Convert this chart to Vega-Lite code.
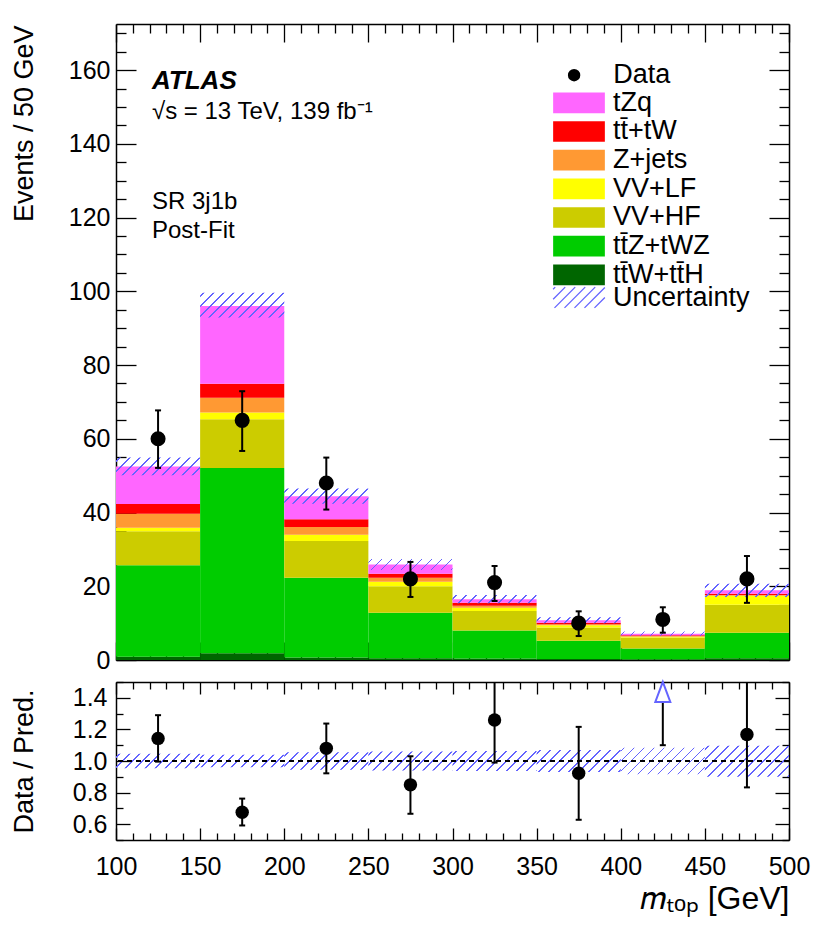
{
  "$schema": "https://vega.github.io/schema/vega-lite/v6.json",
  "background": "white",
  "padding": {"left": 10, "top": 21, "right": 5, "bottom": 5},
  "title": {
    "text": ["SR 3j1b", "Post-Fit"],
    "anchor": "start", "frame": "group", "orient": "top", "align": "left",
    "dx": 36, "dy": 222, "offset": 0,
    "font": "Liberation Sans", "fontSize": 24, "fontStyle": "normal", "fontWeight": "normal", "color": "black",
    "lineHeight": 29
  },
  "params": [
    {"name": "hatchStops", "value": [
      {"offset": 0, "color": "rgba(100,100,255,0)"},
      {"offset": 0.02, "color": "rgba(100,100,255,0)"}, {"offset": 0.02, "color": "#6464ff"}, {"offset": 0.032, "color": "#6464ff"}, {"offset": 0.032, "color": "rgba(100,100,255,0)"},
      {"offset": 0.0914, "color": "rgba(100,100,255,0)"}, {"offset": 0.0914, "color": "#6464ff"}, {"offset": 0.1034, "color": "#6464ff"}, {"offset": 0.1034, "color": "rgba(100,100,255,0)"},
      {"offset": 0.1629, "color": "rgba(100,100,255,0)"}, {"offset": 0.1629, "color": "#6464ff"}, {"offset": 0.1749, "color": "#6464ff"}, {"offset": 0.1749, "color": "rgba(100,100,255,0)"},
      {"offset": 0.2343, "color": "rgba(100,100,255,0)"}, {"offset": 0.2343, "color": "#6464ff"}, {"offset": 0.2463, "color": "#6464ff"}, {"offset": 0.2463, "color": "rgba(100,100,255,0)"},
      {"offset": 0.3057, "color": "rgba(100,100,255,0)"}, {"offset": 0.3057, "color": "#6464ff"}, {"offset": 0.3177, "color": "#6464ff"}, {"offset": 0.3177, "color": "rgba(100,100,255,0)"},
      {"offset": 0.3771, "color": "rgba(100,100,255,0)"}, {"offset": 0.3771, "color": "#6464ff"}, {"offset": 0.3891, "color": "#6464ff"}, {"offset": 0.3891, "color": "rgba(100,100,255,0)"},
      {"offset": 0.4486, "color": "rgba(100,100,255,0)"}, {"offset": 0.4486, "color": "#6464ff"}, {"offset": 0.4606, "color": "#6464ff"}, {"offset": 0.4606, "color": "rgba(100,100,255,0)"},
      {"offset": 0.52, "color": "rgba(100,100,255,0)"}, {"offset": 0.52, "color": "#6464ff"}, {"offset": 0.532, "color": "#6464ff"}, {"offset": 0.532, "color": "rgba(100,100,255,0)"},
      {"offset": 0.5914, "color": "rgba(100,100,255,0)"}, {"offset": 0.5914, "color": "#6464ff"}, {"offset": 0.6034, "color": "#6464ff"}, {"offset": 0.6034, "color": "rgba(100,100,255,0)"},
      {"offset": 0.6629, "color": "rgba(100,100,255,0)"}, {"offset": 0.6629, "color": "#6464ff"}, {"offset": 0.6749, "color": "#6464ff"}, {"offset": 0.6749, "color": "rgba(100,100,255,0)"},
      {"offset": 0.7343, "color": "rgba(100,100,255,0)"}, {"offset": 0.7343, "color": "#6464ff"}, {"offset": 0.7463, "color": "#6464ff"}, {"offset": 0.7463, "color": "rgba(100,100,255,0)"},
      {"offset": 0.8057, "color": "rgba(100,100,255,0)"}, {"offset": 0.8057, "color": "#6464ff"}, {"offset": 0.8177, "color": "#6464ff"}, {"offset": 0.8177, "color": "rgba(100,100,255,0)"},
      {"offset": 0.8771, "color": "rgba(100,100,255,0)"}, {"offset": 0.8771, "color": "#6464ff"}, {"offset": 0.8891, "color": "#6464ff"}, {"offset": 0.8891, "color": "rgba(100,100,255,0)"},
      {"offset": 0.9486, "color": "rgba(100,100,255,0)"}, {"offset": 0.9486, "color": "#6464ff"}, {"offset": 0.9606, "color": "#6464ff"}, {"offset": 0.9606, "color": "rgba(100,100,255,0)"},
      {"offset": 1, "color": "rgba(100,100,255,0)"}
    ]}
  ],
  "config": {
    "font": "Liberation Sans",
    "view": {"stroke": null},
    "axis": {
      "grid": false, "domainColor": "black", "domainWidth": 1.5, "tickColor": "black", "tickWidth": 1.3,
      "labelColor": "black", "titleColor": "black", "labelFont": "Liberation Sans", "titleFont": "Liberation Sans",
      "titleFontWeight": "normal", "labelFontSize": 25, "labelFlush": false, "labelOverlap": false, "labelBound": false
    },
    "legend": {"labelFont": "Liberation Sans", "labelFontSize": 27, "labelColor": "black", "padding": 0, "labelLimit": 500}
  },
  "datasets": {
    "stack": [
      {"lo": 100, "hi": 150, "p": "tt\u0304W+tt\u0304H", "ord": 1, "n": 0.9},
      {"lo": 100, "hi": 150, "p": "tt\u0304Z+tWZ", "ord": 2, "n": 24.8},
      {"lo": 100, "hi": 150, "p": "VV+HF", "ord": 3, "n": 9.2},
      {"lo": 100, "hi": 150, "p": "VV+LF", "ord": 4, "n": 1.0},
      {"lo": 100, "hi": 150, "p": "Z+jets", "ord": 5, "n": 3.8},
      {"lo": 100, "hi": 150, "p": "tt\u0304+tW", "ord": 6, "n": 2.6},
      {"lo": 100, "hi": 150, "p": "tZq", "ord": 7, "n": 10.2},
      {"lo": 150, "hi": 200, "p": "tt\u0304W+tt\u0304H", "ord": 1, "n": 1.8},
      {"lo": 150, "hi": 200, "p": "tt\u0304Z+tWZ", "ord": 2, "n": 50.3},
      {"lo": 150, "hi": 200, "p": "VV+HF", "ord": 3, "n": 13.2},
      {"lo": 150, "hi": 200, "p": "VV+LF", "ord": 4, "n": 1.8},
      {"lo": 150, "hi": 200, "p": "Z+jets", "ord": 5, "n": 4.0},
      {"lo": 150, "hi": 200, "p": "tt\u0304+tW", "ord": 6, "n": 3.8},
      {"lo": 150, "hi": 200, "p": "tZq", "ord": 7, "n": 21.1},
      {"lo": 200, "hi": 250, "p": "tt\u0304W+tt\u0304H", "ord": 1, "n": 0.7},
      {"lo": 200, "hi": 250, "p": "tt\u0304Z+tWZ", "ord": 2, "n": 21.6},
      {"lo": 200, "hi": 250, "p": "VV+HF", "ord": 3, "n": 10.0},
      {"lo": 200, "hi": 250, "p": "VV+LF", "ord": 4, "n": 1.7},
      {"lo": 200, "hi": 250, "p": "Z+jets", "ord": 5, "n": 2.1},
      {"lo": 200, "hi": 250, "p": "tt\u0304+tW", "ord": 6, "n": 2.1},
      {"lo": 200, "hi": 250, "p": "tZq", "ord": 7, "n": 6.2},
      {"lo": 250, "hi": 300, "p": "tt\u0304W+tt\u0304H", "ord": 1, "n": 0.5},
      {"lo": 250, "hi": 300, "p": "tt\u0304Z+tWZ", "ord": 2, "n": 12.3},
      {"lo": 250, "hi": 300, "p": "VV+HF", "ord": 3, "n": 7.2},
      {"lo": 250, "hi": 300, "p": "VV+LF", "ord": 4, "n": 1.2},
      {"lo": 250, "hi": 300, "p": "Z+jets", "ord": 5, "n": 1.1},
      {"lo": 250, "hi": 300, "p": "tt\u0304+tW", "ord": 6, "n": 1.1},
      {"lo": 250, "hi": 300, "p": "tZq", "ord": 7, "n": 2.5},
      {"lo": 300, "hi": 350, "p": "tt\u0304W+tt\u0304H", "ord": 1, "n": 0.4},
      {"lo": 300, "hi": 350, "p": "tt\u0304Z+tWZ", "ord": 2, "n": 7.6},
      {"lo": 300, "hi": 350, "p": "VV+HF", "ord": 3, "n": 5.3},
      {"lo": 300, "hi": 350, "p": "VV+LF", "ord": 4, "n": 0.9},
      {"lo": 300, "hi": 350, "p": "Z+jets", "ord": 5, "n": 0.5},
      {"lo": 300, "hi": 350, "p": "tt\u0304+tW", "ord": 6, "n": 0.8},
      {"lo": 300, "hi": 350, "p": "tZq", "ord": 7, "n": 1.0},
      {"lo": 350, "hi": 400, "p": "tt\u0304W+tt\u0304H", "ord": 1, "n": 0.3},
      {"lo": 350, "hi": 400, "p": "tt\u0304Z+tWZ", "ord": 2, "n": 4.9},
      {"lo": 350, "hi": 400, "p": "VV+HF", "ord": 3, "n": 3.6},
      {"lo": 350, "hi": 400, "p": "VV+LF", "ord": 4, "n": 0.6},
      {"lo": 350, "hi": 400, "p": "Z+jets", "ord": 5, "n": 0.3},
      {"lo": 350, "hi": 400, "p": "tt\u0304+tW", "ord": 6, "n": 0.4},
      {"lo": 350, "hi": 400, "p": "tZq", "ord": 7, "n": 0.7},
      {"lo": 400, "hi": 450, "p": "tt\u0304W+tt\u0304H", "ord": 1, "n": 0.2},
      {"lo": 400, "hi": 450, "p": "tt\u0304Z+tWZ", "ord": 2, "n": 2.9},
      {"lo": 400, "hi": 450, "p": "VV+HF", "ord": 3, "n": 3.0},
      {"lo": 400, "hi": 450, "p": "VV+LF", "ord": 4, "n": 0.2},
      {"lo": 400, "hi": 450, "p": "Z+jets", "ord": 5, "n": 0.2},
      {"lo": 400, "hi": 450, "p": "tt\u0304+tW", "ord": 6, "n": 0.2},
      {"lo": 400, "hi": 450, "p": "tZq", "ord": 7, "n": 0.4},
      {"lo": 450, "hi": 500, "p": "tt\u0304W+tt\u0304H", "ord": 1, "n": 0.5},
      {"lo": 450, "hi": 500, "p": "tt\u0304Z+tWZ", "ord": 2, "n": 6.9},
      {"lo": 450, "hi": 500, "p": "VV+HF", "ord": 3, "n": 7.6},
      {"lo": 450, "hi": 500, "p": "VV+LF", "ord": 4, "n": 2.4},
      {"lo": 450, "hi": 500, "p": "Z+jets", "ord": 5, "n": 0.2},
      {"lo": 450, "hi": 500, "p": "tt\u0304+tW", "ord": 6, "n": 0.4},
      {"lo": 450, "hi": 500, "p": "tZq", "ord": 7, "n": 0.9}
    ],
    "unc": [
      {"lo": 100, "hi": 150, "ulo": 50.1, "uhi": 54.9, "rulo": 0.954, "ruhi": 1.046},
      {"lo": 150, "hi": 200, "ulo": 92.9, "uhi": 99.6, "rulo": 0.96, "ruhi": 1.04},
      {"lo": 200, "hi": 250, "ulo": 42.4, "uhi": 46.5, "rulo": 0.945, "ruhi": 1.055},
      {"lo": 250, "hi": 300, "ulo": 24.4, "uhi": 27.4, "rulo": 0.94, "ruhi": 1.06},
      {"lo": 300, "hi": 350, "ulo": 15.4, "uhi": 17.6, "rulo": 0.937, "ruhi": 1.063},
      {"lo": 350, "hi": 400, "ulo": 10.0, "uhi": 11.6, "rulo": 0.93, "ruhi": 1.07},
      {"lo": 400, "hi": 450, "ulo": 6.5, "uhi": 7.7, "rulo": 0.916, "ruhi": 1.084},
      {"lo": 450, "hi": 500, "ulo": 17.1, "uhi": 20.7, "rulo": 0.9, "ruhi": 1.097}
    ],
    "obs": [
      {"c": 125, "n": 60, "nlo": 52.1, "nhi": 67.7, "r": 1.143, "rlo": 0.996, "rhi": 1.29},
      {"c": 175, "n": 65, "nlo": 56.7, "nhi": 72.9, "r": 0.676, "rlo": 0.592, "rhi": 0.762},
      {"c": 225, "n": 48, "nlo": 40.8, "nhi": 54.9, "r": 1.08, "rlo": 0.922, "rhi": 1.237},
      {"c": 275, "n": 22, "nlo": 17.1, "nhi": 26.6, "r": 0.849, "rlo": 0.666, "rhi": 1.03},
      {"c": 325, "n": 21, "nlo": 16.0, "nhi": 25.5, "r": 1.259, "rlo": 0.99, "rhi": 1.545},
      {"c": 375, "n": 10, "nlo": 6.5, "nhi": 13.2, "r": 0.922, "rlo": 0.628, "rhi": 1.216},
      {"c": 425, "n": 11, "nlo": 7.4, "nhi": 14.3, "r": 1.55, "rlo": 1.10, "rhi": 2.01},
      {"c": 475, "n": 22, "nlo": 15.5, "nhi": 28.2, "r": 1.168, "rlo": 0.833, "rhi": 1.52}
    ]
  },
  "resolve": {"scale": {"x": "independent", "y": "independent"}},
  "spacing": 22,
  "bounds": "flush",
  "vconcat": [
    {
      "width": 673,
      "height": 636,
      "title": {
        "text": "ATLAS",
        "subtitle": "\u221As = 13 TeV, 139 fb\u207B\u00B9",
        "anchor": "start", "frame": "group", "orient": "top", "align": "left",
        "dx": 36, "dy": 103, "offset": 0,
        "font": "Liberation Sans", "fontSize": 26, "fontStyle": "italic", "fontWeight": "bold", "color": "black",
        "subtitleFont": "Liberation Sans", "subtitleFontSize": 24, "subtitleColor": "black",
        "subtitleLineHeight": 31, "subtitlePadding": 6
      },
      "layer": [
        {
          "data": {"name": "stack"},
          "transform": [{"stack": "n", "groupby": ["lo"], "sort": [{"field": "ord", "order": "ascending"}], "as": ["y0", "y1"]}],
          "mark": {"type": "rect"},
          "encoding": {
            "x": {"field": "lo", "type": "quantitative", "scale": {"domain": [100, 500], "nice": false, "zero": false},
              "axis": {"orient": "bottom", "values": [100,110,120,130,140,150,160,170,180,190,200,210,220,230,240,250,260,270,280,290,300,310,320,330,340,350,360,370,380,390,400,410,420,430,440,450,460,470,480,490,500],
                "labels": false, "title": null, "tickSize": {"condition": {"test": "datum.value % 50 === 0", "value": -18}, "value": -9}}},
            "x2": {"field": "hi"},
            "y": {"field": "y0", "type": "quantitative", "scale": {"domain": [0, 172.5], "nice": false, "zero": false},
              "axis": {"orient": "left", "values": [0,5,10,15,20,25,30,35,40,45,50,55,60,65,70,75,80,85,90,95,100,105,110,115,120,125,130,135,140,145,150,155,160,165,170],
                "labelExpr": "datum.value % 20 === 0 ? datum.label : ''",
                "tickSize": {"condition": {"test": "datum.value % 20 === 0", "value": -20}, "value": -10},
                "labelPadding": 26, "labelFontSize": 25,
                "title": "Events / 50 GeV", "titleFontSize": 27, "titleAngle": 270, "titleX": -84, "titleY": 1, "titleAlign": "right", "titleBaseline": "alphabetic"}},
            "y2": {"field": "y1"},
            "fill": {"field": "p", "type": "nominal",
              "scale": {"domain": ["tZq", "tt\u0304+tW", "Z+jets", "VV+LF", "VV+HF", "tt\u0304Z+tWZ", "tt\u0304W+tt\u0304H"],
                        "range": ["#ff66ff", "#ff0000", "#ff9933", "#ffff00", "#cccc00", "#00cc00", "#006600"]},
              "legend": {"orient": "none", "legendX": 449.5, "legendY": 65.3, "title": null,
                "symbolType": "M-2.5,-1H2.5V1H-2.5Z", "symbolSize": 428, "symbolStrokeWidth": 0, "symbolOpacity": 1,
                "labelFontSize": 27, "labelOffset": 20.5, "rowPadding": 0.67, "padding": 0}}
          }
        },
        {
          "data": {"name": "unc"},
          "mark": {"type": "rect", "fill": {"expr": "{gradient:'linear',x1:0,y1:0,x2:11777.5/(7077+pow((datum.uhi-datum.ulo)*3.6875,2)),y2:140*(datum.uhi-datum.ulo)*3.6875/(7077+pow((datum.uhi-datum.ulo)*3.6875,2)),stops:hatchStops}"}},
          "encoding": {
            "x": {"field": "lo", "type": "quantitative",
              "axis": {"orient": "top", "values": [100,110,120,130,140,150,160,170,180,190,200,210,220,230,240,250,260,270,280,290,300,310,320,330,340,350,360,370,380,390,400,410,420,430,440,450,460,470,480,490,500],
                "labels": false, "title": null, "tickSize": {"condition": {"test": "datum.value % 50 === 0", "value": -18}, "value": -9}}},
            "x2": {"field": "hi"},
            "y": {"field": "ulo", "type": "quantitative",
              "axis": {"orient": "right", "values": [0,5,10,15,20,25,30,35,40,45,50,55,60,65,70,75,80,85,90,95,100,105,110,115,120,125,130,135,140,145,150,155,160,165,170],
                "labels": false, "title": null, "tickSize": {"condition": {"test": "datum.value % 20 === 0", "value": -20}, "value": -10}}},
            "y2": {"field": "uhi"}
          }
        },
        {
          "data": {"name": "unc"},
          "mark": {"type": "point", "shape": "M-2.5,-0.8L-2.3,-1M-2.5,0.166L-1.334,-1M-2.368,1L-0.368,-1M-1.402,1L0.598,-1M-0.436,1L1.564,-1M0.53,1L2.5,-0.97M1.496,1L2.5,-0.004",
            "size": 428, "filled": false, "strokeWidth": 1.3, "opacity": 0},
          "encoding": {
            "x": {"field": "lo", "type": "quantitative", "axis": null},
            "y": {"field": "ulo", "type": "quantitative", "axis": null},
            "stroke": {"datum": "Uncertainty", "type": "nominal", "scale": {"range": ["#6464ff"]},
              "legend": {"orient": "none", "legendX": 449.5, "legendY": 260, "title": null,
                "symbolType": "M-2.5,-0.8L-2.3,-1M-2.5,0.166L-1.334,-1M-2.368,1L-0.368,-1M-1.402,1L0.598,-1M-0.436,1L1.564,-1M0.53,1L2.5,-0.97M1.496,1L2.5,-0.004",
                "symbolSize": 428, "symbolOpacity": 1, "symbolStrokeWidth": 1.3, "symbolFillColor": "transparent",
                "labelFontSize": 27, "labelOffset": 20.5, "padding": 0}}
          }
        },
        {
          "data": {"name": "obs"},
          "mark": {"type": "rule", "color": "black", "strokeWidth": 2},
          "encoding": {
            "x": {"field": "c", "type": "quantitative", "axis": null},
            "y": {"field": "nlo", "type": "quantitative", "axis": null},
            "y2": {"field": "nhi"}
          }
        },
        {
          "data": {"name": "obs"},
          "mark": {"type": "tick", "orient": "horizontal", "size": 6, "thickness": 2, "color": "black", "opacity": 1},
          "encoding": {
            "x": {"field": "c", "type": "quantitative", "axis": null},
            "y": {"field": "nlo", "type": "quantitative", "axis": null}
          }
        },
        {
          "data": {"name": "obs"},
          "mark": {"type": "tick", "orient": "horizontal", "size": 6, "thickness": 2, "color": "black", "opacity": 1},
          "encoding": {
            "x": {"field": "c", "type": "quantitative", "axis": null},
            "y": {"field": "nhi", "type": "quantitative", "axis": null}
          }
        },
        {
          "data": {"name": "obs"},
          "mark": {"type": "point", "filled": true, "color": "black", "size": 227, "opacity": 1},
          "encoding": {
            "x": {"field": "c", "type": "quantitative", "axis": null},
            "y": {"field": "n", "type": "quantitative", "axis": null},
            "shape": {"datum": "Data", "type": "nominal", "scale": {"range": ["circle"]},
              "legend": {"orient": "none", "legendX": 444.6, "legendY": 37.7, "title": null,
                "symbolSize": 154, "symbolFillColor": "black", "symbolStrokeWidth": 0,
                "labelFontSize": 27, "labelOffset": 25.7, "padding": 0}}
          }
        }
      ],
      "resolve": {"axis": {"x": "independent", "y": "independent"}}
    },
    {
      "width": 673,
      "height": 158,
      "layer": [
        {
          "data": {"name": "unc"},
          "mark": {"type": "rect", "fill": {"expr": "{gradient:'linear',x1:0,y1:0,x2:11777.5/(7077+pow((datum.ruhi-datum.rulo)*158,2)),y2:140*(datum.ruhi-datum.rulo)*158/(7077+pow((datum.ruhi-datum.rulo)*158,2)),stops:hatchStops}"}},
          "encoding": {
            "x": {"field": "lo", "type": "quantitative", "scale": {"domain": [100, 500], "nice": false, "zero": false},
              "axis": {"orient": "bottom", "values": [100,110,120,130,140,150,160,170,180,190,200,210,220,230,240,250,260,270,280,290,300,310,320,330,340,350,360,370,380,390,400,410,420,430,440,450,460,470,480,490,500],
                "labelExpr": "datum.value % 50 === 0 ? datum.label : ''",
                "tickSize": {"condition": {"test": "datum.value % 50 === 0", "value": -12}, "value": -7},
                "labelPadding": 26, "labelBaseline": "top", "labelFontSize": 25,
                "title": "\uD835\uDC5A\u209C\u2092\u209A [GeV]", "titleFont": "'Liberation Sans', 'Noto Sans', 'DejaVu Sans'", "titleFontSize": 32, "titleAnchor": "end", "titleAlign": "right",
                "titleX": 673, "titleY": 68, "titleBaseline": "alphabetic"}},
            "x2": {"field": "hi"},
            "y": {"field": "rulo", "type": "quantitative", "scale": {"domain": [0.5, 1.5], "nice": false, "zero": false},
              "axis": {"orient": "left", "values": [0.5,0.6,0.7,0.8,0.9,1.0,1.1,1.2,1.3,1.4,1.5],
                "labelExpr": "round(datum.value*10) % 2 === 0 ? format(datum.value, '.1f') : ''",
                "tickSize": {"condition": {"test": "round(datum.value*10) % 2 === 0", "value": -14}, "value": -7},
                "labelPadding": 23, "labelFontSize": 25,
                "title": "Data / Pred.", "titleFontSize": 27, "titleAngle": 270, "titleX": -84, "titleY": 79, "titleAlign": "center", "titleBaseline": "alphabetic"}},
            "y2": {"field": "ruhi"}
          }
        },
        {
          "data": {"values": [{}]},
          "mark": {"type": "rule", "color": "black", "strokeWidth": 2, "strokeDash": [5, 4]},
          "encoding": {"y": {"datum": 1, "type": "quantitative", "axis": null}}
        },
        {
          "data": {"name": "obs"},
          "mark": {"type": "rule", "color": "black", "strokeWidth": 2, "clip": true},
          "encoding": {
            "x": {"field": "c", "type": "quantitative",
              "axis": {"orient": "top", "values": [100,110,120,130,140,150,160,170,180,190,200,210,220,230,240,250,260,270,280,290,300,310,320,330,340,350,360,370,380,390,400,410,420,430,440,450,460,470,480,490,500],
                "labels": false, "title": null, "tickSize": {"condition": {"test": "datum.value % 50 === 0", "value": -12}, "value": -7}}},
            "y": {"field": "rlo", "type": "quantitative",
              "axis": {"orient": "right", "values": [0.5,0.6,0.7,0.8,0.9,1.0,1.1,1.2,1.3,1.4,1.5],
                "labels": false, "title": null, "tickSize": {"condition": {"test": "round(datum.value*10) % 2 === 0", "value": -14}, "value": -7}}},
            "y2": {"field": "rhi"}
          }
        },
        {
          "data": {"name": "obs"},
          "mark": {"type": "tick", "orient": "horizontal", "size": 6, "thickness": 2, "color": "black", "opacity": 1, "clip": true},
          "encoding": {
            "x": {"field": "c", "type": "quantitative", "axis": null},
            "y": {"field": "rlo", "type": "quantitative", "axis": null}
          }
        },
        {
          "data": {"name": "obs"},
          "mark": {"type": "tick", "orient": "horizontal", "size": 6, "thickness": 2, "color": "black", "opacity": 1, "clip": true},
          "encoding": {
            "x": {"field": "c", "type": "quantitative", "axis": null},
            "y": {"field": "rhi", "type": "quantitative", "axis": null}
          }
        },
        {
          "data": {"name": "obs"},
          "mark": {"type": "point", "filled": true, "color": "black", "size": 180, "opacity": 1, "clip": true},
          "encoding": {
            "x": {"field": "c", "type": "quantitative", "axis": null},
            "y": {"field": "r", "type": "quantitative", "axis": null}
          }
        },
        {
          "data": {"name": "obs"},
          "transform": [{"filter": "datum.r > 1.5"}],
          "mark": {"type": "point", "shape": "M-0.75,1L0.75,1L0,-1Z", "size": 400, "filled": true, "fill": "white", "stroke": "#6464ff", "strokeWidth": 2, "opacity": 1, "fillOpacity": 1},
          "encoding": {
            "x": {"field": "c", "type": "quantitative", "axis": null},
            "y": {"datum": 1.437, "type": "quantitative", "axis": null}
          }
        }
      ],
      "resolve": {"axis": {"x": "independent", "y": "independent"}}
    }
  ]
}
